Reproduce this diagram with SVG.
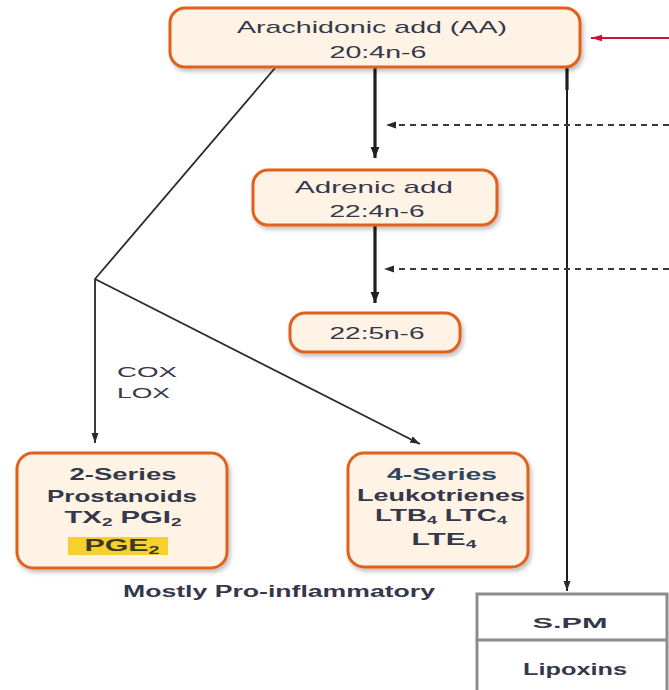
<svg xmlns="http://www.w3.org/2000/svg" width="669" height="690" viewBox="0 0 669 690">
<style>
.box{fill:#FFF3E5;stroke:#E0601C;stroke-width:3;filter:url(#sh)}
.t{font-family:"Liberation Sans",Arial,sans-serif;fill:#34384a;text-anchor:middle}
.r{font-size:17px}
.b{font-size:17px;font-weight:bold}
.thick{stroke:#1e1e1e;stroke-width:3.2;fill:none}
.thin{stroke:#2a2a2a;stroke-width:1.8;fill:none}
.dash{stroke:#3a3a3a;stroke-width:2;stroke-dasharray:6 5;fill:none}
</style>
<defs>
<filter id="sh" x="-10%" y="-10%" width="125%" height="130%">
<feDropShadow dx="2" dy="3" stdDeviation="2" flood-color="#000" flood-opacity="0.25"/>
</filter>
<marker id="ah" viewBox="0 0 10 10" refX="10" refY="5" markerWidth="11" markerHeight="11" markerUnits="userSpaceOnUse" orient="auto"><path d="M0,1 L10,5 L0,9 z" fill="#1e1e1e"/></marker>
<marker id="ahs" viewBox="0 0 10 10" refX="10" refY="5" markerWidth="10" markerHeight="10" markerUnits="userSpaceOnUse" orient="auto"><path d="M0,1.5 L10,5 L0,8.5 z" fill="#2a2a2a"/></marker>
<marker id="ahr" viewBox="0 0 10 10" refX="10" refY="5" markerWidth="11" markerHeight="11" markerUnits="userSpaceOnUse" orient="auto"><path d="M0,2 L10,5 L0,8 z" fill="#D0103A"/></marker>
</defs>
<rect width="669" height="690" fill="#ffffff"/>

<g id="connectors">
<line x1="669" y1="38" x2="591" y2="38" stroke="#D0103A" stroke-width="2" marker-end="url(#ahr)"/>
<line class="thick" x1="375" y1="68" x2="375" y2="158" marker-end="url(#ah)"/>
<line class="thick" x1="375" y1="226" x2="375" y2="303" marker-end="url(#ah)"/>
<line x1="567" y1="68" x2="567" y2="90" stroke="#1e1e1e" stroke-width="3.2"/>
<line x1="567" y1="88" x2="567" y2="591" stroke="#1e1e1e" stroke-width="2" marker-end="url(#ahs)"/>
<line class="dash" x1="669" y1="125" x2="386" y2="125" marker-end="url(#ahs)"/>
<line class="dash" x1="669" y1="269" x2="384" y2="269" marker-end="url(#ahs)"/>
<polyline class="thin" points="275,68 95,279 95,443" marker-end="url(#ahs)"/>
<line class="thin" x1="95" y1="279" x2="420" y2="444" marker-end="url(#ahs)"/>
</g>

<g id="aa">
<rect class="box" x="170" y="8" width="410" height="59" rx="15"/>
<text class="t r" x="372" y="33" textLength="270" lengthAdjust="spacingAndGlyphs">Arachidonic add (AA)</text>
<text class="t r" x="378" y="58" textLength="97" lengthAdjust="spacingAndGlyphs">20:4n-6</text>
</g>

<g id="adrenic">
<rect class="box" x="253" y="170" width="244" height="55" rx="15"/>
<text class="t r" x="374" y="193" textLength="158" lengthAdjust="spacingAndGlyphs">Adrenic add</text>
<text class="t r" x="377" y="217" textLength="95" lengthAdjust="spacingAndGlyphs">22:4n-6</text>
</g>

<g id="dpa">
<rect class="box" x="290" y="313" width="170" height="39" rx="15"/>
<text class="t r" x="377" y="339" textLength="95" lengthAdjust="spacingAndGlyphs">22:5n-6</text>
</g>

<g id="coxlox">
<text class="t" x="117" y="377" style="font-size:15px;text-anchor:start" textLength="60" lengthAdjust="spacingAndGlyphs">COX</text>
<text class="t" x="117" y="398" style="font-size:15px;text-anchor:start" textLength="53" lengthAdjust="spacingAndGlyphs">LOX</text>
</g>

<g id="series2">
<rect class="box" x="17" y="453" width="210" height="115" rx="16"/>
<rect x="68" y="537" width="100" height="18" fill="#F7CF2E"/>
<text class="t b" x="123" y="480" textLength="107" lengthAdjust="spacingAndGlyphs">2-Series</text>
<text class="t b" x="122" y="502" textLength="150" lengthAdjust="spacingAndGlyphs">Prostanoids</text>
<text class="t b" x="123" y="523" textLength="117" lengthAdjust="spacingAndGlyphs" fill="#2d4660">TX<tspan font-size="11" dy="3">2</tspan><tspan dy="-3"> PGI</tspan><tspan font-size="11" dy="3">2</tspan></text>
<text class="t b" x="122" y="551" textLength="75" lengthAdjust="spacingAndGlyphs" style="fill:#3a3a2a">PGE<tspan font-size="11" dy="3">2</tspan></text>
</g>

<g id="series4">
<rect class="box" x="348" y="453" width="180" height="114" rx="16"/>
<text class="t b" x="442" y="480" textLength="110" lengthAdjust="spacingAndGlyphs" style="fill:#2d4660">4-Series</text>
<text class="t b" x="441" y="501" textLength="168" lengthAdjust="spacingAndGlyphs">Leukotrienes</text>
<text class="t b" x="441" y="521" textLength="132" lengthAdjust="spacingAndGlyphs">LTB<tspan font-size="11" dy="3">4</tspan><tspan dy="-3"> LTC</tspan><tspan font-size="11" dy="3">4</tspan></text>
<text class="t b" x="444" y="545" textLength="65" lengthAdjust="spacingAndGlyphs">LTE<tspan font-size="11" dy="3">4</tspan></text>
</g>

<g id="label-pro">
<text class="t b" x="279" y="597" style="font-size:16px" textLength="312" lengthAdjust="spacingAndGlyphs">Mostly Pro-inflammatory</text>
</g>

<g id="spm">
<rect x="477" y="594" width="190" height="100" fill="#ffffff" stroke="#8c8c8c" stroke-width="3"/>
<line x1="477" y1="640" x2="667" y2="640" stroke="#8c8c8c" stroke-width="3"/>
<text class="t b" x="570" y="628" style="font-size:15px" textLength="75" lengthAdjust="spacingAndGlyphs">S.PM</text>
</g>
<g id="lipoxins">
<text class="t b" x="575" y="675" style="font-size:16px" textLength="104" lengthAdjust="spacingAndGlyphs">Lipoxins</text>
</g>
</svg>
